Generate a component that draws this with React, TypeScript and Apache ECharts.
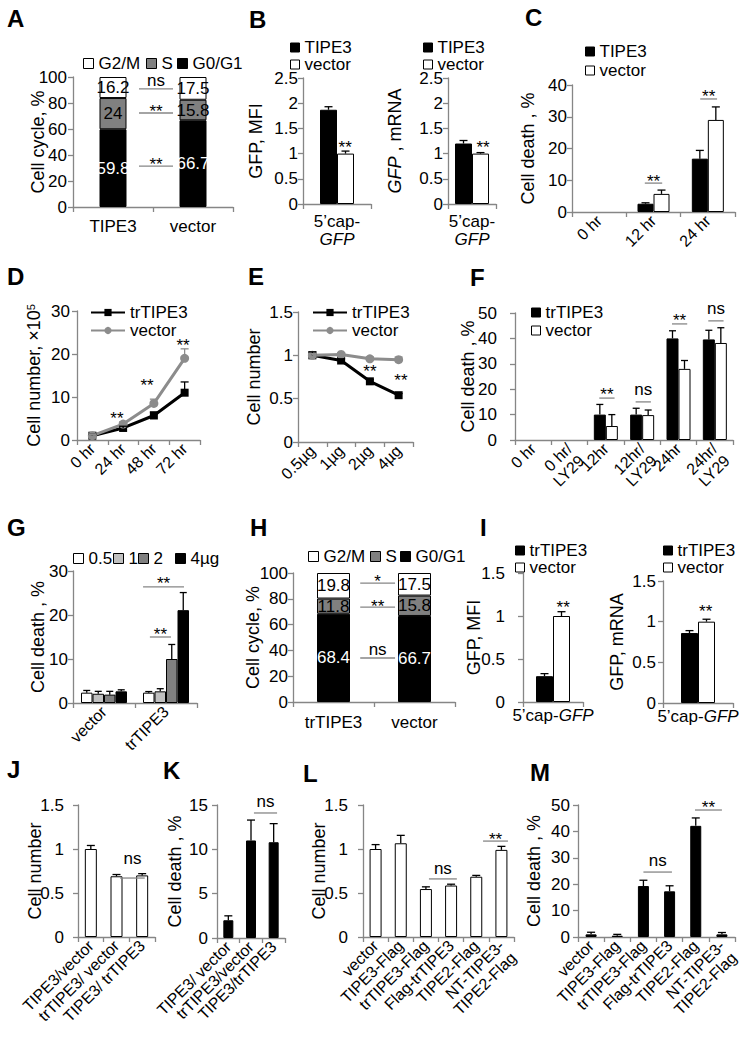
import React, { useEffect, useRef } from 'react';
import * as echarts from 'echarts';

const FONT = '"Liberation Sans", Arial, Helvetica, sans-serif';
const AX = '#868686';
const GRAY_LINE = '#8c8c8c';

// ================= DATA =================
// A
const aCats = ['TIPE3', 'vector'];
const aG0G1 = [59.8, 66.7];
const aS = [24, 15.8];
const aG2M = [16.2, 17.5];
// B
const bCats = ['5’cap-GFP'];
const bMfiTIPE3 = [1.87];
const bMfiTIPE3Err = [0.06];
const bMfiVector = [1.0];
const bMfiVectorErr = [0.05];
const bMrnaTIPE3 = [1.2];
const bMrnaTIPE3Err = [0.06];
const bMrnaVector = [1.0];
const bMrnaVectorErr = [0.02];
// C
const cCats = ['0 hr', '12 hr', '24 hr'];
const cTIPE3 = [0, 2.6, 16.8];
const cTIPE3Err = [0, 0.3, 2.6];
const cVector = [0, 5.7, 29];
const cVectorErr = [0, 1.2, 4.1];
// D
const dCats = ['0 hr', '24 hr', '48 hr', '72 hr'];
const dTr = [1, 2.8, 5.7, 11];
const dTrErr = [0.3, 0.4, 0.8, 2.5];
const dVec = [1, 3.7, 8.5, 19];
const dVecErr = [0.3, 0.5, 1.0, 2.2];
// E
const eCats = ['0.5µg', '1µg', '2µg', '4µg'];
const eTr = [1.0, 0.94, 0.7, 0.54];
const eTrErr = [0.04, 0.02, 0.02, 0.02];
const eVec = [1.0, 1.01, 0.96, 0.95];
const eVecErr = [0.02, 0.02, 0.02, 0.03];
// F
const fCats = ['0 hr', '0 hr/\nLY29', '12hr', '12hr/\nLY29', '24hr', '24hr/\nLY29'];
const fTr = [0, 0, 10, 10, 40, 39.6];
const fTrErr = [0, 0, 4, 2.5, 3, 3.6];
const fVec = [0, 0, 5.5, 9.8, 28, 38.2];
const fVecErr = [0, 0, 4.5, 2, 3.3, 6];
// G
const gCats = ['vector', 'trTIPE3'];
const gDoses = ['0.5', '1', '2', '4µg'];
const g05 = [2.35, 2.35];
const g05Err = [0.5, 0.25];
const g1 = [2.1, 2.65];
const g1Err = [0.55, 0.6];
const g2 = [1.9, 10];
const g2Err = [0.75, 3.3];
const g4 = [2.65, 21.1];
const g4Err = [0.35, 4.0];
// H
const hCats = ['trTIPE3', 'vector'];
const hG0G1 = [68.4, 66.7];
const hS = [11.8, 15.8];
const hG2M = [19.8, 17.5];
// I
const iCats = ['5’cap-GFP'];
const iMfiTr = [0.3];
const iMfiTrErr = [0.03];
const iMfiVec = [1.0];
const iMfiVecErr = [0.05];
const iMrnaTr = [0.86];
const iMrnaTrErr = [0.03];
const iMrnaVec = [1.0];
const iMrnaVecErr = [0.03];
// J
const jCats = ['TIPE3/vector', 'trTIPE3/ vector', 'TIPE3/ trTIPE3'];
const jVals = [1.0, 0.69, 0.7];
const jErr = [0.04, 0.02, 0.02];
// K
const kCats = ['TIPE3/ vector', 'trTIPE3/vector', 'TIPE3/trTIPE3'];
const kVals = [2.0, 11.0, 10.8];
const kErr = [0.5, 2.3, 2.1];
// L
const lmCats = ['vector', 'TIPE3-Flag', 'trTIPE3-Flag', 'Flag-trTIPE3', 'TIPE2-Flag', 'NT-TIPE3-\nTIPE2-Flag'];
const lVals = [1.0, 1.065, 0.545, 0.585, 0.685, 0.99];
const lErr = [0.05, 0.09, 0.025, 0.015, 0.015, 0.04];
// M
const mVals = [1.0, 0.5, 19.3, 17.3, 42.1, 1.0];
const mErr = [0.8, 0.5, 2.2, 2.1, 3.0, 0.7];

// significance marks: category index, value where the bar sits, label
type Sig = { cat: number; y: number; label: string; x1: number; x2: number; gap: number; line: boolean };
const sig = (cat: number, y: number, label: string, x1: number, x2: number, gap: number, line = true): Sig => ({ cat, y, label, x1, x2, gap, line });

const aSig = [sig(0, 90.8, 'ns', 0.325, 0.75, 7), sig(0, 72.3, '**', 0.325, 0.75, 6), sig(0, 31.5, '**', 0.325, 0.75, 6)];
const b1Sig = [sig(0, 1.21, '**', 0.12, 0.12, 0, false)];
const b2Sig = [sig(0, 1.21, '**', 0.23, 0.23, 0, false)];
const cSig = [sig(1, 9.1, '**', -0.16, 0.16, 6), sig(2, 35.6, '**', -0.14, 0.17, 6)];
const dSig = [sig(1, 6.0, '**', -0.2, -0.2, 0, false), sig(2, 13.5, '**', -0.22, -0.22, 0, false), sig(3, 23.0, '**', -0.05, -0.05, 0, false)];
const eSig = [sig(2, 0.854, '**', 0, 0, 0, false), sig(3, 0.76, '**', 0.08, 0.08, 0, false)];
const fSig = [sig(2, 16.5, '**', -0.18, 0.24, 8), sig(3, 15, 'ns', -0.18, 0.24, 11), sig(4, 45.7, '**', -0.18, 0.24, 7), sig(5, 46.9, 'ns', -0.18, 0.24, 11)];
const gSig = [sig(1, 26.4, '**', -0.37, 0.29, 7), sig(1, 15, '**', -0.26, 0.08, 7)];
const hSig = [sig(0, 92.2, '*', 0.33, 0.76, 6), sig(0, 73.6, '**', 0.33, 0.76, 5), sig(0, 34.1, 'ns', 0.33, 0.76, 7)];
const i1Sig = [sig(0, 1.15, '**', 0.17, 0.17, 0, false)];
const i2Sig = [sig(0, 1.17, '**', 0.11, 0.11, 0, false)];
const jSig = [sig(1, 0.67, 'ns', 0.14, 1.1, 18)];
const kSig = [sig(1, 14.1, 'ns', 0.13, 1.15, 10)];
const lSig = [sig(2, 0.66, 'ns', 0.12, 1.23, 9), sig(4, 1.09, '**', 0.27, 1.26, 6)];
const mSig = [sig(2, 24.6, 'ns', 0, 1.09, 10), sig(4, 48.1, '**', -0.03, 1.0, 7)];

// ================= HELPERS =================
const txt = (size = 17) => ({ fontSize: size, fontFamily: FONT, color: '#000' });

function letter(t: string, x: number, y: number) {
  return { type: 'text', x, y, silent: true, style: { text: t, fill: '#000', fontSize: 24, fontWeight: 'bold', fontFamily: FONT, align: 'left', verticalAlign: 'middle' } };
}

function yAx(min: number, max: number, interval: number, name: string, nameGap: number, margin: number, extra: any = {}) {
  const { rich, ...rest } = extra;
  return {
    type: 'value', min, max, interval,
    name, nameLocation: 'middle', nameGap, nameMoveOverlap: false,
    nameTextStyle: { ...txt(18), rich },
    axisLine: { show: true, lineStyle: { color: AX, width: 1.3 } },
    axisTick: { show: true, inside: false, length: 5, lineStyle: { color: AX, width: 1.3 } },
    splitLine: { show: false },
    axisLabel: { ...txt(17), margin, hideOverlap: false },
    ...rest,
  };
}

// a two-line rotated label gets an empty leading line, so that its first real line sits where one-line labels sit
const rotFmt = (v: string) => (v.indexOf('\n') >= 0 ? '\n' + v : v);

function xAx(cats: string[], label: any = {}, extra: any = {}) {
  return {
    type: 'category', data: cats,
    axisLine: { show: true, lineStyle: { color: AX, width: 1.3 } },
    axisTick: { show: true, inside: false, length: 5, alignWithLabel: false, lineStyle: { color: AX, width: 1.3 } },
    splitLine: { show: false },
    axisLabel: { interval: 0, hideOverlap: false, ...txt(17), margin: 8, ...label },
    ...extra,
  };
}

const rotLabel = (margin = 6) => ({ rotate: 45, fontSize: 16, lineHeight: 17, margin, formatter: rotFmt });

function bar(name: string, data: number[], fill: string, width: number, axis = 0) {
  return {
    type: 'bar', name, xAxisIndex: axis, yAxisIndex: axis, barWidth: width, barGap: '0%', z: 2,
    data: data.map((v) => (v === 0 ? { value: 0, itemStyle: { borderWidth: 0 } } : v)),
    itemStyle: { color: fill, borderColor: '#000', borderWidth: 1 },
  };
}

function stackBar(name: string, data: number[], fill: string, labelColor: string, width: number) {
  return {
    type: 'bar', name, data, stack: 'cycle', barWidth: width, z: 2,
    itemStyle: { color: fill, borderColor: '#000', borderWidth: 1 },
    label: { show: true, position: 'inside', color: labelColor, fontSize: 17, fontFamily: FONT, textBorderWidth: 0 },
  };
}

function lineSeries(name: string, data: number[], color: string, symbol: string, size: number) {
  return {
    type: 'line', name, data, symbol, symbolSize: size, z: 3,
    lineStyle: { color, width: 3 }, itemStyle: { color, borderWidth: 0 },
  };
}

function errBars(values: number[], errs: number[], offset: number, cap: number, color = '#000', axis = 0) {
  return {
    type: 'custom', xAxisIndex: axis, yAxisIndex: axis, silent: true, z: 4,
    encode: { x: 0, y: [1, 2] },
    data: values.map((v, i) => [i, v, v + errs[i]]),
    renderItem: (params: any, api: any) => {
      const i = api.value(0);
      const v = api.value(1);
      const e = api.value(2);
      if (!(e > v)) return { type: 'group', children: [] };
      const p0 = api.coord([i, v]);
      const p1 = api.coord([i, e]);
      const x = p0[0] + offset;
      const st = { stroke: color, lineWidth: 1.3 };
      return {
        type: 'group',
        children: [
          { type: 'line', shape: { x1: x, y1: p0[1], x2: x, y2: p1[1] }, style: st },
          { type: 'line', shape: { x1: x - cap / 2, y1: p1[1], x2: x + cap / 2, y2: p1[1] }, style: st },
        ],
      };
    },
  };
}

function sigSeries(items: Sig[], axis = 0) {
  return {
    type: 'custom', xAxisIndex: axis, yAxisIndex: axis, silent: true, z: 6,
    data: items.map((s) => [s.cat, s.y]),
    renderItem: (params: any, api: any) => {
      const s = items[params.dataIndex];
      const p = api.coord([s.cat, s.y]);
      const bw = api.size([1, 0])[0];
      const x1 = p[0] + s.x1 * bw;
      const x2 = p[0] + s.x2 * bw;
      const children: any[] = [];
      if (s.line) children.push({ type: 'line', shape: { x1, y1: p[1], x2, y2: p[1] }, style: { stroke: AX, lineWidth: 1.3 } });
      const star = s.label.indexOf('*') >= 0;
      const vc = p[1] - s.gap;
      const ty = vc + (star ? 4 : -1.5);
      children.push({ type: 'text', x: (x1 + x2) / 2, y: ty, style: { text: s.label, fill: '#000', fontSize: 17, fontFamily: FONT, align: 'center', verticalAlign: 'middle' } });
      return { type: 'group', children };
    },
  };
}

// "center" is the y of the item's text centre line
function legItem(name: string, left: number, center: number, kind: 'box' | 'line' = 'box', size = 9) {
  const base: any = {
    data: [name], left, top: center - 7, padding: 0, selectedMode: false, orient: 'horizontal',
    textStyle: { ...txt(17), lineHeight: 14 },
  };
  if (kind === 'box') {
    base.icon = 'rect';
    base.itemWidth = size;
    base.itemHeight = size;
    base.itemStyle = { borderColor: '#000', borderWidth: 1 };
  } else {
    base.itemWidth = 34;
    base.itemHeight = 9;
  }
  return base;
}

const capFmt = (v: string) => v.replace('GFP', '\n{i|GFP}');
const capFmt1 = (v: string) => v.replace('GFP', '{i|GFP}');
const italicRich = { i: { fontStyle: 'italic', fontSize: 17, fontFamily: FONT, color: '#000', lineHeight: 18 } };

// ================= OPTIONS =================
const optA = {
  animation: false,
  graphic: [letter('A', 7, 18.5)],
  legend: [legItem('G2/M', 83, 62, 'box', 10), legItem('S', 146, 62, 'box', 10), legItem('G0/G1', 177, 62, 'box', 10)],
  grid: { left: 73, top: 77, width: 160, height: 130 },
  xAxis: xAx(aCats, { margin: 11 }),
  yAxis: yAx(0, 100, 20, 'Cell cycle, %', 26, 6),
  series: [
    stackBar('G0/G1', aG0G1, '#000', '#fff', 27),
    stackBar('S', aS, '#808080', '#000', 27),
    stackBar('G2/M', aG2M, '#fff', '#000', 27),
    sigSeries(aSig),
  ],
};

const optB = {
  animation: false,
  graphic: [letter('B', 249, 19.5)],
  legend: [legItem('TIPE3', 290, 46), legItem('vector', 290, 63), legItem('TIPE3', 423, 46), legItem('vector', 423, 63)],
  grid: [{ left: 303, top: 78, width: 68, height: 126 }, { left: 448, top: 78, width: 48, height: 126 }],
  xAxis: [
    xAx(bCats, { margin: 8, lineHeight: 18, formatter: capFmt, rich: italicRich }, { gridIndex: 0 }),
    xAx(bCats, { margin: 8, lineHeight: 18, formatter: capFmt, rich: italicRich }, { gridIndex: 1 }),
  ],
  yAxis: [
    yAx(0, 2.5, 0.5, 'GFP, MFI', 38, 5, { gridIndex: 0 }),
    yAx(0, 2.5, 0.5, '{i|GFP} , mRNA', 44.5, 5, { gridIndex: 1, rich: { i: { fontStyle: 'italic', fontSize: 18, fontFamily: FONT, color: '#000' } } }),
  ],
  series: [
    bar('TIPE3', bMfiTIPE3, '#000', 17, 0),
    bar('vector', bMfiVector, '#fff', 17, 0),
    errBars(bMfiTIPE3, bMfiTIPE3Err, -8.5, 8, '#000', 0),
    errBars(bMfiVector, bMfiVectorErr, 8.5, 8, '#000', 0),
    sigSeries(b1Sig, 0),
    bar('TIPE3', bMrnaTIPE3, '#000', 17, 1),
    bar('vector', bMrnaVector, '#fff', 17, 1),
    errBars(bMrnaTIPE3, bMrnaTIPE3Err, -8.5, 8, '#000', 1),
    errBars(bMrnaVector, bMrnaVectorErr, 8.5, 8, '#000', 1),
    sigSeries(b2Sig, 1),
  ],
};

const optC = {
  animation: false,
  graphic: [letter('C', 525, 17)],
  legend: [legItem('TIPE3', 585, 50), legItem('vector', 585, 69)],
  grid: { left: 572, top: 85, width: 163, height: 127 },
  xAxis: xAx(cCats, rotLabel(6)),
  yAxis: yAx(0, 40, 10, 'Cell death , %', 35.5, 5),
  series: [
    bar('TIPE3', cTIPE3, '#000', 16),
    bar('vector', cVector, '#fff', 16),
    errBars(cTIPE3, cTIPE3Err, -8, 8),
    errBars(cVector, cVectorErr, 8, 8),
    sigSeries(cSig),
  ],
};

const optD = {
  animation: false,
  graphic: [letter('D', 7, 276.7)],
  legend: [legItem('trTIPE3', 90, 311, 'line'), legItem('vector', 90, 329, 'line')],
  grid: { left: 77, top: 311, width: 123, height: 129 },
  xAxis: xAx(dCats, rotLabel(6)),
  yAxis: yAx(0, 30, 10, 'Cell number, ×10{sup|5}', 34, 7, { rich: { sup: { fontSize: 11, fontFamily: FONT, color: '#000', verticalAlign: 'top' } } }),
  series: [
    lineSeries('trTIPE3', dTr, '#000', 'rect', 8),
    lineSeries('vector', dVec, GRAY_LINE, 'circle', 9),
    errBars(dTr, dTrErr, 0, 8, '#000'),
    errBars(dVec, dVecErr, 0, 8, GRAY_LINE),
    sigSeries(dSig),
  ],
};

const optE = {
  animation: false,
  graphic: [letter('E', 248, 276.7)],
  legend: [legItem('trTIPE3', 312, 311, 'line'), legItem('vector', 312, 329, 'line')],
  grid: { left: 298, top: 312, width: 115, height: 130 },
  xAxis: xAx(eCats, rotLabel(6)),
  yAxis: yAx(0, 1.5, 0.5, 'Cell number', 35.5, 5),
  series: [
    lineSeries('trTIPE3', eTr, '#000', 'rect', 8),
    lineSeries('vector', eVec, GRAY_LINE, 'circle', 9),
    errBars(eTr, eTrErr, 0, 8, '#000'),
    errBars(eVec, eVecErr, 0, 8, GRAY_LINE),
    sigSeries(eSig),
  ],
};

const optF = {
  animation: false,
  graphic: [letter('F', 470, 277)],
  legend: [legItem('trTIPE3', 531, 311), legItem('vector', 531, 329)],
  grid: { left: 515, top: 313, width: 218, height: 127 },
  xAxis: xAx(fCats, rotLabel(6)),
  yAxis: yAx(0, 50, 10, 'Cell death , %', 38, 18),
  series: [
    bar('trTIPE3', fTr, '#000', 12),
    bar('vector', fVec, '#fff', 12),
    errBars(fTr, fTrErr, -6, 7),
    errBars(fVec, fVecErr, 6, 7),
    sigSeries(fSig),
  ],
};

const gColors = ['#fff', '#c0c0c0', '#808080', '#000'];
const gVals = [g05, g1, g2, g4];
const gErrs = [g05Err, g1Err, g2Err, g4Err];
const gLegendX = [73, 113, 138, 175];
const optG = {
  animation: false,
  graphic: [letter('G', 7, 527)],
  legend: gDoses.map((d, k) => legItem(d, gLegendX[k], 557, 'box', 10)),
  grid: { left: 73, top: 571, width: 124, height: 132 },
  xAxis: xAx(gCats, rotLabel(6)),
  yAxis: yAx(0, 30, 10, 'Cell death , %', 26.5, 5),
  series: [
    ...gDoses.map((d, k) => bar(d, gVals[k], gColors[k], 11.5)),
    ...gDoses.map((d, k) => errBars(gVals[k], gErrs[k], (k - 1.5) * 11.5, 7)),
    sigSeries(gSig),
  ],
};

const optH = {
  animation: false,
  graphic: [letter('H', 250, 527)],
  legend: [legItem('G2/M', 308, 555, 'box', 10), legItem('S', 370, 555, 'box', 10), legItem('G0/G1', 400, 555, 'box', 10)],
  grid: { left: 293, top: 573, width: 162, height: 129 },
  xAxis: xAx(hCats, { margin: 12 }),
  yAxis: yAx(0, 100, 20, 'Cell cycle, %', 31.5, 5),
  series: [
    stackBar('G0/G1', hG0G1, '#000', '#fff', 33),
    stackBar('S', hS, '#808080', '#000', 33),
    stackBar('G2/M', hG2M, '#fff', '#000', 33),
    sigSeries(hSig),
  ],
};

const optI = {
  animation: false,
  graphic: [letter('I', 480, 527)],
  legend: [legItem('trTIPE3', 515, 549), legItem('vector', 515, 566), legItem('trTIPE3', 663, 549), legItem('vector', 663, 566)],
  grid: [{ left: 523, top: 573, width: 60, height: 129 }, { left: 663, top: 581, width: 70, height: 122 }],
  xAxis: [
    xAx(iCats, { margin: 4, formatter: capFmt1, rich: italicRich }, { gridIndex: 0 }),
    xAx(iCats, { margin: 4, formatter: capFmt1, rich: italicRich }, { gridIndex: 1 }),
  ],
  yAxis: [
    yAx(0, 1.5, 0.5, 'GFP, MFI', 40, 18, { gridIndex: 0 }),
    yAx(0, 1.5, 0.5, 'GFP, mRNA', 37.5, 7, { gridIndex: 1 }),
  ],
  series: [
    bar('trTIPE3', iMfiTr, '#000', 17, 0),
    bar('vector', iMfiVec, '#fff', 17, 0),
    errBars(iMfiTr, iMfiTrErr, -8.5, 8, '#000', 0),
    errBars(iMfiVec, iMfiVecErr, 8.5, 8, '#000', 0),
    sigSeries(i1Sig, 0),
    bar('trTIPE3', iMrnaTr, '#000', 17, 1),
    bar('vector', iMrnaVec, '#fff', 17, 1),
    errBars(iMrnaTr, iMrnaTrErr, -8.5, 8, '#000', 1),
    errBars(iMrnaVec, iMrnaVecErr, 8.5, 8, '#000', 1),
    sigSeries(i2Sig, 1),
  ],
};

const optJ = {
  animation: false,
  graphic: [letter('J', 7, 769)],
  grid: { left: 78, top: 805, width: 77, height: 132 },
  xAxis: xAx(jCats, rotLabel(6)),
  yAxis: yAx(0, 1.5, 0.5, 'Cell number', 34.5, 14),
  series: [bar('J', jVals, '#fff', 12), errBars(jVals, jErr, 0, 8), sigSeries(jSig)],
};

const optK = {
  animation: false,
  graphic: [letter('K', 163, 770)],
  grid: { left: 217, top: 805, width: 68, height: 133 },
  xAxis: xAx(kCats, rotLabel(6)),
  yAxis: yAx(0, 15, 5, 'Cell death , %', 33, 9),
  series: [bar('K', kVals, '#000', 10), errBars(kVals, kErr, 0, 8), sigSeries(kSig)],
};

const optL = {
  animation: false,
  graphic: [letter('L', 303, 773)],
  grid: { left: 363, top: 805, width: 151, height: 132 },
  xAxis: xAx(lmCats, rotLabel(6)),
  yAxis: yAx(0, 1.5, 0.5, 'Cell number', 35.5, 15),
  series: [bar('L', lVals, '#fff', 12), errBars(lVals, lErr, 0, 8), sigSeries(lSig)],
};

const optM = {
  animation: false,
  graphic: [letter('M', 530, 772)],
  grid: { left: 578, top: 805, width: 157, height: 132 },
  xAxis: xAx(lmCats, rotLabel(6)),
  yAxis: yAx(0, 50, 10, 'Cell death , %', 35.5, 8),
  series: [bar('M', mVals, '#000', 11), errBars(mVals, mErr, 0, 8), sigSeries(mSig)],
};

const OPTIONS: any[] = [optA, optB, optC, optD, optE, optF, optG, optH, optI, optJ, optK, optL, optM];

function Chart({ option }: { option: any }) {
  const ref = useRef<HTMLDivElement>(null);
  useEffect(() => {
    if (!ref.current) return;
    const chart = echarts.init(ref.current, null, { renderer: 'svg', width: 750, height: 1050 });
    chart.setOption(option);
    return () => chart.dispose();
  }, [option]);
  return <div ref={ref} style={{ position: 'absolute', left: 0, top: 0, width: 750, height: 1050 }} />;
}

export default function App() {
  return (
    <div style={{ position: 'absolute', left: 0, top: 0, width: 750, height: 1050, background: '#fff', overflow: 'hidden' }}>
      {OPTIONS.map((o, i) => (
        <Chart key={i} option={o} />
      ))}
    </div>
  );
}
